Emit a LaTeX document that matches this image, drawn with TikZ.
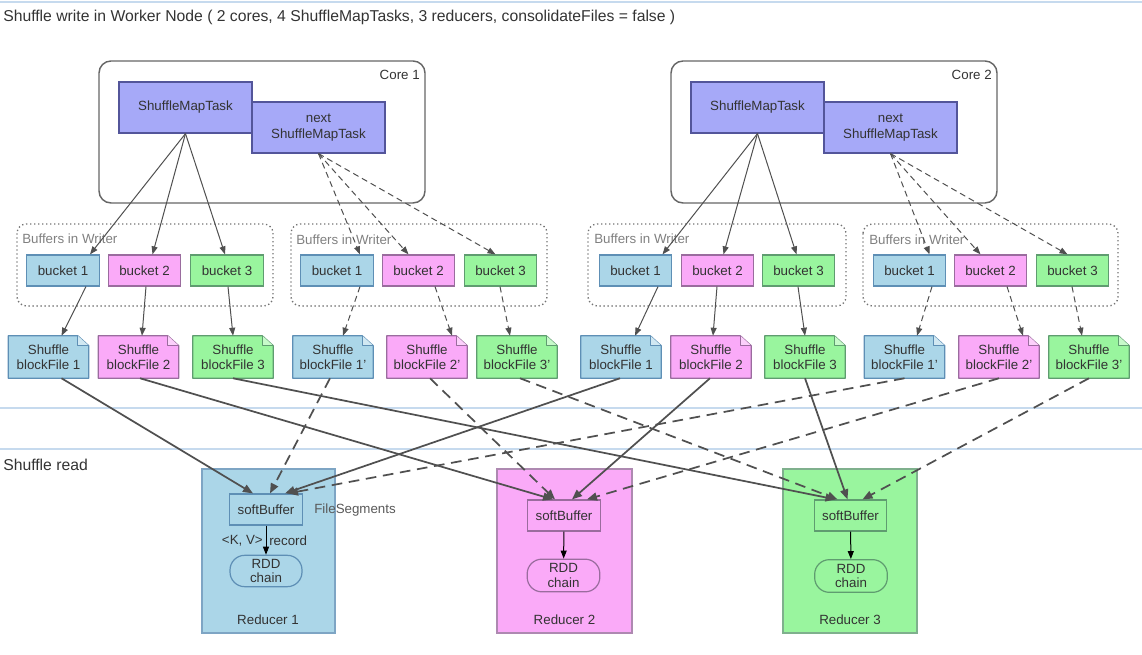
\documentclass[tikz,border=0pt]{standalone}
\usepackage{fontspec}
\setmainfont{Liberation Sans}
\usetikzlibrary{arrows.meta,calc,backgrounds}
\definecolor{bluef}{HTML}{ABD6E8}
\definecolor{blued}{HTML}{5E8FB5}
\definecolor{pinkf}{HTML}{FAAAF8}
\definecolor{pinkd}{HTML}{9A6C9E}
\definecolor{greenf}{HTML}{99F59E}
\definecolor{greend}{HTML}{5F9C70}
\definecolor{lavf}{HTML}{A6A9F8}
\definecolor{lavd}{HTML}{53559A}
\definecolor{txt}{HTML}{333333}
\definecolor{sep}{HTML}{C6DAEE}
\definecolor{arr}{HTML}{505050}
\begin{document}
\begin{tikzpicture}[x=0.75pt,y=-0.75pt,
  font=\fontsize{10}{11.5}\selectfont,
  every node/.style={text=txt},
  box/.style={draw, line width=0.9pt, inner sep=0pt, align=center},
  task/.style={box, fill=lavf, draw=lavd, minimum width=99.75pt, minimum height=38.25pt},
  bucket/.style={box, minimum width=54.4pt, minimum height=23.25pt},
  docfile/.style={inner sep=0pt, align=center, minimum width=60pt, minimum height=31.5pt, font=\fontsize{10}{11}\selectfont},
  coreframe/.style={draw=black!60, line width=1.1pt, rounded corners=9pt},
  grp/.style={draw=black!55, dotted, line width=1pt, rounded corners=7pt},
  grplabel/.style={text=black!50, anchor=west, inner sep=0pt},
  reducer/.style={line width=0.9pt},
  thinarr/.style={draw=arr, line width=0.75pt, -{Triangle[length=6pt,width=4.5pt]}},
  thickarr/.style={draw=arr, line width=1.3pt, -{Triangle[length=7.5pt,width=6pt]}},
  tdash/.style={dash pattern=on 4.5pt off 3pt},
  bdash/.style={dash pattern=on 8pt off 5pt},
  sepline/.style={draw=sep, line width=1pt},
  header/.style={anchor=west, inner sep=0pt, font=\fontsize{11.8}{13}\selectfont}
]
\useasboundingbox (0,0) rectangle (1142,655);

% separator lines
\draw[sepline] (0,2) -- (1142,2);
\draw[sepline] (0,408) -- (1142,408);
\draw[sepline] (0,449) -- (1142,449);

\node[header] (title) at (3,17) {Shuffle write in Worker Node ( 2 cores, 4 ShuffleMapTasks, 3 reducers, consolidateFiles = false )};
\node[header] (readlbl) at (3,465) {Shuffle read};

% cores
\draw[coreframe] (99,61) rectangle (425,203);
\node[anchor=east, inner sep=0pt] (core1) at (420,75) {Core 1};
\draw[coreframe] (671,61) rectangle (997,203);
\node[anchor=east, inner sep=0pt] (core2) at (992,75) {Core 2};

\node[task] (smt1) at (185.5,107.5) {ShuffleMapTask};
\node[task] (nsmt1) at (318.5,127.5) {next\\ShuffleMapTask};
\node[task] (smt2) at (757.5,107.5) {ShuffleMapTask};
\node[task] (nsmt2) at (890.5,127.5) {next\\ShuffleMapTask};

% buffer groups
\draw[grp] (17,224) rectangle (273,306);
\draw[grp] (291,224) rectangle (547,306);
\draw[grp] (588,224) rectangle (846,306);
\draw[grp] (863,224) rectangle (1118,306);
\node[grplabel] (g1) at (22,239) {Buffers in Writer};
\node[grplabel] (g2) at (296,240) {Buffers in Writer};
\node[grplabel] (g3) at (594,239) {Buffers in Writer};
\node[grplabel] (g4) at (869,240) {Buffers in Writer};

% buckets
\node[bucket, fill=bluef, draw=blued] (b11) at (63,270.5) {bucket 1};
\node[bucket, fill=pinkf, draw=pinkd] (b12) at (144.5,270.5) {bucket 2};
\node[bucket, fill=greenf, draw=greend] (b13) at (227,270.5) {bucket 3};
\node[bucket, fill=bluef, draw=blued] (b21) at (337,270.5) {bucket 1};
\node[bucket, fill=pinkf, draw=pinkd] (b22) at (418.5,270.5) {bucket 2};
\node[bucket, fill=greenf, draw=greend] (b23) at (500.5,270.5) {bucket 3};
\node[bucket, fill=bluef, draw=blued] (b31) at (635.5,270.5) {bucket 1};
\node[bucket, fill=pinkf, draw=pinkd] (b32) at (717.5,270.5) {bucket 2};
\node[bucket, fill=greenf, draw=greend] (b33) at (798.5,270.5) {bucket 3};
\node[bucket, fill=bluef, draw=blued] (b41) at (909.5,270.5) {bucket 1};
\node[bucket, fill=pinkf, draw=pinkd] (b42) at (990.5,270.5) {bucket 2};
\node[bucket, fill=greenf, draw=greend] (b43) at (1072.5,270.5) {bucket 3};

% block files
\node[docfile] (bf11) at (48.5,357) {Shuffle\\blockFile 1};
\node[docfile] (bf12) at (138.5,357) {Shuffle\\blockFile 2};
\node[docfile] (bf13) at (233,357) {Shuffle\\blockFile 3};
\node[docfile] (bf21) at (333,357) {Shuffle\\blockFile 1'};
\node[docfile] (bf22) at (427,357) {Shuffle\\blockFile 2'};
\node[docfile] (bf23) at (517,357) {Shuffle\\blockFile 3'};
\node[docfile] (bf31) at (621,357) {Shuffle\\blockFile 1};
\node[docfile] (bf32) at (711,357) {Shuffle\\blockFile 2};
\node[docfile] (bf33) at (805,357) {Shuffle\\blockFile 3};
\node[docfile] (bf41) at (904.5,357) {Shuffle\\blockFile 1'};
\node[docfile] (bf42) at (999,357) {Shuffle\\blockFile 2'};
\node[docfile] (bf43) at (1089,357) {Shuffle\\blockFile 3'};

\begin{scope}[on background layer]
\foreach \n/\f/\d in {bf11/bluef/blued,bf12/pinkf/pinkd,bf13/greenf/greend,
                      bf21/bluef/blued,bf22/pinkf/pinkd,bf23/greenf/greend,
                      bf31/bluef/blued,bf32/pinkf/pinkd,bf33/greenf/greend,
                      bf41/bluef/blued,bf42/pinkf/pinkd,bf43/greenf/greend}{
  \filldraw[fill=\f, draw=\d, line width=0.9pt, line join=round]
    (\n.south west) -- (\n.north west) -- ($(\n.north east)+(-11,0)$)
    -- ($(\n.north east)+(0,10)$) -- (\n.south east) -- cycle;
  \filldraw[fill=\f!55!white, draw=\d, line width=0.6pt, line join=round]
    ($(\n.north east)+(-11,0)$) -- ($(\n.north east)+(-11,10)$) -- ($(\n.north east)+(0,10)$);
}
\end{scope}

% reducers
\filldraw[reducer, fill=bluef, draw=blued!80] (202,469) rectangle (335,633);
\filldraw[reducer, fill=pinkf, draw=pinkd!80] (497,469) rectangle (632,633);
\filldraw[reducer, fill=greenf, draw=greend!80] (783,469) rectangle (917,633);

\node[bucket, draw=blued] (sb1) at (266,509.5) {softBuffer};
\node[bucket, draw=pinkd] (sb2) at (564,515.5) {softBuffer};
\node[bucket, draw=greend] (sb3) at (850.5,515.5) {softBuffer};
\node[box, draw=blued, rounded corners=11pt, minimum width=54pt, minimum height=23.5pt, font=\fontsize{10}{11}\selectfont] (rdd1) at (266,571) {RDD\\chain};
\node[box, draw=pinkd, rounded corners=11pt, minimum width=54.5pt, minimum height=24.5pt, font=\fontsize{10}{11}\selectfont] (rdd2) at (563.5,575.5) {RDD\\chain};
\node[box, draw=greend, rounded corners=11pt, minimum width=54.5pt, minimum height=24.5pt, font=\fontsize{10}{11}\selectfont] (rdd3) at (851,576) {RDD\\chain};
\node (red1) at (268,620) {Reducer 1};
\node (red2) at (564.5,620) {Reducer 2};
\node (red3) at (850,620) {Reducer 3};
\node[anchor=west, inner sep=0pt, text=black!65] (fseg) at (314,510) {FileSegments};
\node[anchor=east, inner sep=0pt] (kv) at (263,541) {<K, V>};
\node[anchor=west, inner sep=0pt] (rec) at (269,541) {record};

\draw[draw=black, line width=0.75pt, -{Triangle[length=6pt,width=4.5pt]}] (sb1) -- (rdd1);
\draw[draw=black, line width=0.75pt, -{Triangle[length=6pt,width=4.5pt]}] (sb2) -- (rdd2);
\draw[draw=black, line width=0.75pt, -{Triangle[length=6pt,width=4.5pt]}] (sb3) -- (rdd3);

% task -> bucket arrows
\draw[thinarr] (smt1.south) -- ($(b11.north)+(27,0)$);
\draw[thinarr] (smt1.south) -- ($(b12.north)+(8,0)$);
\draw[thinarr] (smt1.south) -- ($(b13.north)+(-2,0)$);
\draw[thinarr, tdash] (nsmt1.south) -- ($(b21.north)+(23,0)$);
\draw[thinarr, tdash] (nsmt1.south) -- ($(b22.north)+(-10,0)$);
\draw[thinarr, tdash] (nsmt1.south) -- ($(b23.north)+(-5,0)$);
\draw[thinarr] (smt2.south) -- ($(b31.north)+(27,0)$);
\draw[thinarr] (smt2.south) -- ($(b32.north)+(6,0)$);
\draw[thinarr] (smt2.south) -- ($(b33.north)+(-2,0)$);
\draw[thinarr, tdash] (nsmt2.south) -- ($(b41.north)+(20,0)$);
\draw[thinarr, tdash] (nsmt2.south) -- ($(b42.north)+(-10,0)$);
\draw[thinarr, tdash] (nsmt2.south) -- ($(b43.north)+(-5,0)$);

% bucket -> block file arrows
\draw[thinarr] ($(b11.south)+(23,0)$) -- ($(bf11.north)+(13,0)$);
\draw[thinarr] ($(b12.south)+(1.5,0)$) -- ($(bf12.north)+(3.5,0)$);
\draw[thinarr] ($(b13.south)+(1,0)$) -- ($(bf13.north)+(0,0)$);
\draw[thinarr, tdash] ($(b21.south)+(23,0)$) -- ($(bf21.north)+(10,0)$);
\draw[thinarr, tdash] ($(b22.south)+(16.5,0)$) -- ($(bf22.north)+(25,0)$);
\draw[thinarr, tdash] ($(b23.south)+(-0.5,0)$) -- ($(bf23.north)+(-7,0)$);
\draw[thinarr] ($(b31.south)+(22.5,0)$) -- ($(bf31.north)+(14,0)$);
\draw[thinarr] ($(b32.south)+(-0.5,0)$) -- ($(bf32.north)+(2,0)$);
\draw[thinarr] ($(b33.south)+(-0.5,0)$) -- ($(bf33.north)+(0,0)$);
\draw[thinarr, tdash] ($(b41.south)+(22.5,0)$) -- ($(bf41.north)+(12.5,0)$);
\draw[thinarr, tdash] ($(b42.south)+(16.5,0)$) -- ($(bf42.north)+(24,0)$);
\draw[thinarr, tdash] ($(b43.south)+(-0.5,0)$) -- ($(bf43.north)+(-7,0)$);

% block file -> reducer arrows
\draw[thickarr] ($(bf11.south)+(13,0)$) -- ($(sb1.north)+(-13,0)$);
\draw[thickarr] ($(bf12.south)+(1.5,0)$) -- ($(sb2.north)+(-11,0)$);
\draw[thickarr] ($(bf13.south)+(0,0)$) -- ($(sb3.north)+(-15,0)$);
\draw[thickarr, bdash] ($(bf21.south)+(-3,0)$) -- ($(sb1.north)+(4,0)$);
\draw[thickarr, bdash] ($(bf22.south)+(3,0)$) -- ($(sb2.north)+(-9,0)$);
\draw[thickarr, bdash] ($(bf23.south)+(3,0)$) -- ($(sb3.north)+(-13,0)$);
\draw[thickarr] ($(bf31.south)+(-1,0)$) -- ($(sb1.north)+(19,0)$);
\draw[thickarr] ($(bf32.south)+(-1,0)$) -- ($(sb2.north)+(8,0)$);
\draw[thickarr] ($(bf33.south)+(0,0)$) -- ($(sb3.north)+(-3,0)$);
\draw[thickarr, bdash] ($(bf41.south)+(0,0)$) -- ($(sb1.north)+(22,0)$);
\draw[thickarr, bdash] ($(bf42.south)+(0,0)$) -- ($(sb2.north)+(23,0)$);
\draw[thickarr, bdash] ($(bf43.south)+(0,0)$) -- ($(sb3.north)+(12,0)$);
\end{tikzpicture}
\end{document}
